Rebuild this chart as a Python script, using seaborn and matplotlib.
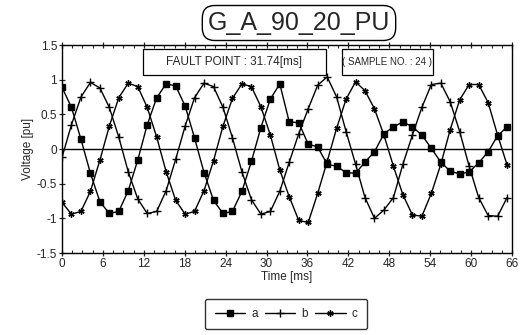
import matplotlib
matplotlib.use("Agg")
import matplotlib.pyplot as plt
import seaborn as sns
import pandas as pd
from matplotlib.patches import Rectangle

# ---- data ----
time_ms = [0.0, 1.39, 2.78, 4.17, 5.56, 6.94, 8.33, 9.72, 11.11, 12.5, 13.89, 15.28,
           16.67, 18.06, 19.44, 20.83, 22.22, 23.61, 25.0, 26.39, 27.78, 29.17, 30.56, 31.94,
           33.33, 34.72, 36.11, 37.5, 38.89, 40.28, 41.67, 43.06, 44.44, 45.83, 47.22, 48.61,
           50.0, 51.39, 52.78, 54.17, 55.56, 56.94, 58.33, 59.72, 61.11, 62.5, 63.89, 65.28]

va = [0.89, 0.6, 0.14, -0.35, -0.76, -0.93, -0.9, -0.6, -0.16, 0.35, 0.74, 0.94,
      0.91, 0.62, 0.16, -0.34, -0.74, -0.93, -0.9, -0.61, -0.18, 0.31, 0.72, 0.94,
      0.39, 0.38, 0.07, 0.03, -0.22, -0.25, -0.34, -0.35, -0.19, -0.04, 0.22, 0.32,
      0.39, 0.32, 0.2, 0.01, -0.19, -0.32, -0.36, -0.33, -0.2, -0.04, 0.19, 0.32]

vb = [-0.12, 0.35, 0.75, 0.96, 0.88, 0.6, 0.17, -0.33, -0.72, -0.93, -0.9, -0.6,
      -0.15, 0.33, 0.74, 0.95, 0.9, 0.6, 0.16, -0.33, -0.73, -0.94, -0.9, -0.61,
      -0.19, 0.22, 0.58, 0.92, 1.04, 0.75, 0.25, -0.22, -0.7, -1.0, -0.88, -0.7,
      -0.22, 0.2, 0.6, 0.93, 0.95, 0.68, 0.25, -0.25, -0.7, -0.96, -0.97, -0.7]

vc = [-0.77, -0.94, -0.9, -0.61, -0.16, 0.33, 0.74, 0.95, 0.9, 0.6, 0.17, -0.33,
      -0.74, -0.94, -0.9, -0.6, -0.17, 0.33, 0.73, 0.94, 0.9, 0.61, 0.2, -0.3,
      -0.69, -1.03, -1.06, -0.64, -0.18, 0.3, 0.72, 0.97, 0.84, 0.58, 0.2, -0.25,
      -0.66, -0.95, -0.97, -0.64, -0.22, 0.28, 0.71, 0.93, 0.93, 0.67, 0.2, -0.23]

series_names = ["a", "b", "c"]
x_ticks = [0, 6, 12, 18, 24, 30, 36, 42, 48, 54, 60, 66]
y_ticks = [-1.5, -1, -0.5, 0, 0.5, 1, 1.5]
y_tick_labels = ["-1.5", "-1", "-0.5", "0", "0.5", "1", "1.5"]
title_text = "G_A_90_20_PU"
fault_text = "FAULT POINT : 31.74[ms]"
sample_text = "( SAMPLE NO. : 24 )"

df = pd.DataFrame({
    "Time": time_ms * 3,
    "Voltage": va + vb + vc,
    "phase": ["a"] * len(va) + ["b"] * len(vb) + ["c"] * len(vc),
})

sns.set_style("ticks")
plt.rcParams["font.family"] = ["Liberation Sans", "DejaVu Sans"]

fig = plt.figure(figsize=(5.2, 3.35), dpi=100)
W, H = 520, 335
ax = fig.add_axes([62 / W, 1 - 253 / H, 450 / W, 208 / H])

marker_map = {"a": "s", "b": "+", "c": (6, 2, 0)}
size_map = {"a": 5, "b": 5.5, "c": 4.5}
for name in series_names:
    sub = df[df["phase"] == name]
    sns.lineplot(data=sub, x="Time", y="Voltage", ax=ax, color="black",
                 linewidth=1.0, marker=marker_map[name], markersize=size_map[name],
                 markeredgecolor="black", markerfacecolor="black",
                 markeredgewidth=1.0, label=name, sort=False)

ax.axhline(0, color="black", linewidth=1.0, zorder=1)
ax.set_xlim(0, 66)
ax.set_ylim(-1.5, 1.5)
ax.set_xticks(x_ticks)
ax.set_xticks([v * 1.5 for v in range(45)], minor=True)
ax.set_yticks(y_ticks)
ax.set_yticklabels(y_tick_labels)
ax.tick_params(axis="both", which="major", direction="inout", length=5,
               labelsize=8.5, width=0.9, pad=1)
ax.tick_params(axis="x", which="minor", direction="in", length=2.5, width=0.8)
ax.tick_params(top=True, which="both")
for s in ax.spines.values():
    s.set_linewidth(1.0)
    s.set_color("black")
ax.set_xlabel("Time [ms]", fontsize=8.5, labelpad=1)
ax.set_ylabel("Voltage [pu]", fontsize=8.5, labelpad=2)

# title box
fig.text(299 / W, 1 - 23 / H, title_text, ha="center", va="center", fontsize=18,
         bbox=dict(boxstyle="round,pad=0.22,rounding_size=0.5", fc="white",
                   ec="black", lw=1.0))

# annotation boxes
for (x0, x1), txt, fs in [((143, 326), fault_text, 8.5), ((342, 433), sample_text, 7.0)]:
    fig.patches.append(Rectangle((x0 / W, 1 - 75 / H), (x1 - x0) / W, 26 / H,
                                 transform=fig.transFigure, fc="white",
                                 ec="black", lw=0.9, zorder=5))
    fig.text((x0 + x1) / 2 / W, 1 - 62 / H, txt, ha="center", va="center",
             fontsize=fs, zorder=6)

if ax.get_legend():
    ax.get_legend().remove()
handles, labels = ax.get_legend_handles_labels()
leg = fig.legend(handles, labels, loc="center", bbox_to_anchor=(286 / W, 1 - 314 / H),
                 ncol=3, fontsize=8.5, frameon=True, fancybox=True,
                 edgecolor="black", handlelength=2.6, columnspacing=0.6,
                 handletextpad=0.5, borderpad=0.8)
leg.get_frame().set_linewidth(1.0)

fig.savefig("out.png", dpi=100, facecolor="white")
